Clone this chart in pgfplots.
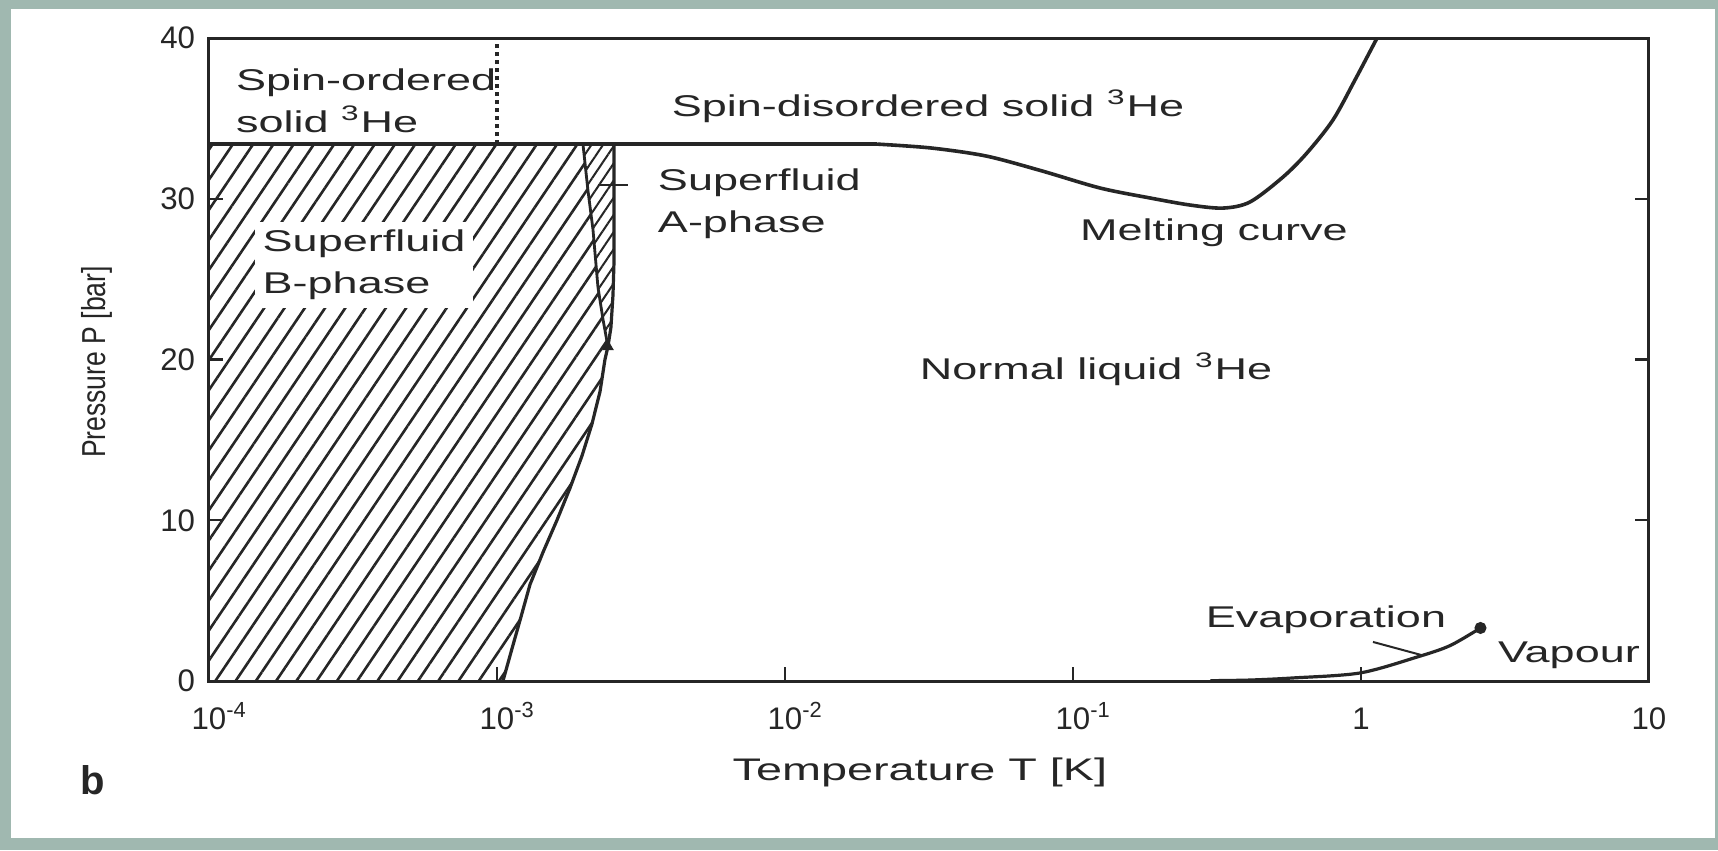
\documentclass[border=0pt]{standalone}
\usepackage{fontspec}
\setmainfont[FakeStretch=1.5]{Liberation Sans}
\newfontfamily\tickfont{Liberation Sans}
\newfontfamily\yfont[FakeStretch=0.8]{Liberation Sans}
\usepackage{pgfplots}
\pgfplotsset{compat=1.18}
\usetikzlibrary{patterns.meta}
\definecolor{bord}{RGB}{160,184,176}
\definecolor{ink}{RGB}{38,38,38}
\newcommand\lab{\fontsize{7.5}{10.5}\selectfont}
\begin{document}
\begin{tikzpicture}
\useasboundingbox (0,0) rectangle (429.5pt,212.5pt);
\fill[bord] (0,0) rectangle (429.5pt,212.5pt);
\fill[white] (2.75pt,3pt) rectangle (428.75pt,210.25pt);
\begin{axis}[
  at={(52.25pt,42.25pt)}, anchor=south west,
  width=360pt, height=160.75pt, scale only axis,
  xmode=log, xmin=1e-4, xmax=10, ymin=0, ymax=40,
  xtick={1e-4,1e-3,1e-2,1e-1,1,10},
  xticklabels={10\rlap{\textsuperscript{-4}},10\rlap{\textsuperscript{-3}},10\rlap{\textsuperscript{-2}},10\rlap{\textsuperscript{-1}},1,10},
  xminorticks=false, yminorticks=false,
  ytick={0,10,20,30,40},
  yticklabels={0,10,20,30,40},
  xtick pos=left, ytick pos=both,
  tick align=inside, major tick length=3.5pt,
  axis line style={line width=0.75pt, ink},
  tick style={ink, line width=0.6pt},
  axis on top,
  xticklabel style={font=\tickfont\fontsize{7.8}{9}\selectfont, text=ink, anchor=base, yshift=-12pt},
  yticklabel style={font=\tickfont\fontsize{7.8}{9}\selectfont, text=ink, anchor=east, inner sep=0pt, xshift=-3.3pt},
  xlabel={Temperature T [K]},
  xlabel style={at={(axis description cs:0.4937,-0.1415)}, anchor=center, font=\fontsize{7.8}{9}\selectfont, text=ink},
  ylabel={Pressure P [bar]},
  ylabel style={at={(axis description cs:-0.0778,0.4961)}, anchor=center, font=\yfont\fontsize{8.3}{10}\selectfont, text=ink},
]
% B-phase (hatched)
\addplot[draw=none, pattern={Lines[angle=56,distance=4.2pt,line width=0.65pt]}, pattern color=ink] coordinates {
(1e-4,0) (1.049e-3,0) (1.127e-3,2) (1.212e-3,4) (1.302e-3,6) (1.444e-3,8) (1.615e-3,10)
(1.793e-3,12) (1.973e-3,14) (2.138e-3,16) (2.279e-3,18) (2.371e-3,20) (2.428e-3,20.8)
(2.334e-3,22.5) (2.242e-3,24.5) (2.154e-3,28.1) (2.070e-3,30.5) (1.989e-3,33.4) (1e-4,33.4)
} -- cycle;
% A-phase (hatched)
\addplot[draw=none, pattern={Lines[angle=56,distance=2.4pt,line width=0.5pt]}, pattern color=ink] coordinates {
(2.428e-3,20.8) (2.487e-3,22) (2.528e-3,24) (2.548e-3,26) (2.548e-3,33.4) (1.989e-3,33.4)
(2.070e-3,30.5) (2.154e-3,28.1) (2.242e-3,24.5) (2.334e-3,22.5)
} -- cycle;
\node[fill=white, inner sep=2pt, align=left, anchor=west, text=ink, font=\lab] at (rel axis cs:0.0312,0.647) {Superfluid\\B-phase};
% melting curve
\addplot[ink, line width=0.9pt] coordinates {(1e-4,33.4) (0.0209,33.4)};
\addplot[ink, line width=0.9pt, smooth, tension=0.5] coordinates {
(0.0209,33.4) (0.0321,33.16) (0.0499,32.66) (0.0774,31.75) (0.1241,30.67) (0.185,30.05)
(0.2548,29.61) (0.3317,29.42) (0.4118,29.80) (0.536,31.35) (0.6494,32.85) (0.7993,34.90)
(0.9532,37.39) (1.137,40)
};
% superfluid transition line
\addplot[ink, line width=0.8pt] coordinates {
(1.049e-3,0) (1.127e-3,2) (1.212e-3,4) (1.302e-3,6) (1.444e-3,8) (1.615e-3,10)
(1.793e-3,12) (1.973e-3,14) (2.138e-3,16) (2.279e-3,18) (2.371e-3,20) (2.428e-3,20.8)
(2.487e-3,22) (2.528e-3,24) (2.548e-3,26) (2.548e-3,33.4)
};
% A-B transition line
\addplot[ink, line width=0.7pt] coordinates {
(2.428e-3,20.8) (2.334e-3,22.5) (2.242e-3,24.5) (2.154e-3,28.1) (2.070e-3,30.5) (1.989e-3,33.4)
};
\addplot[ink, only marks, mark=triangle*, mark size=1.3pt] coordinates {(2.428e-3,20.8)};
% spin ordering (dotted)
\addplot[ink, line width=1pt, densely dotted] coordinates {(1e-3,33.4) (1e-3,40)};
% A-phase leader
\addplot[ink, line width=0.5pt] coordinates {(2.242e-3,30.86) (2.851e-3,30.86)};
% evaporation curve
\addplot[ink, line width=0.8pt, smooth] coordinates {
(0.3,0.02) (0.4118,0.06) (0.5807,0.19) (0.992,0.50) (1.565,1.49) (2.037,2.2) (2.6,3.3)
};
\addplot[ink, only marks, mark=*, mark size=1.3pt] coordinates {(2.6,3.3)};
\addplot[ink, line width=0.5pt] coordinates {(1.1007,2.43) (1.633,1.6)};
% labels
\node[align=left, anchor=west, text=ink, font=\lab] at (rel axis cs:0.009,0.902) {Spin-ordered\\solid \textsuperscript{3}He};
\node[text=ink, font=\lab] at (rel axis cs:0.4993,0.8942) {Spin-disordered solid \textsuperscript{3}He};
\node[align=left, anchor=west, text=ink, font=\lab] at (rel axis cs:0.302,0.7418) {Superfluid\\A-phase};
\node[text=ink, font=\lab] at (rel axis cs:0.6979,0.6967) {Melting curve};
\node[text=ink, font=\lab] at (rel axis cs:0.616,0.4852) {Normal liquid \textsuperscript{3}He};
\node[text=ink, font=\lab] at (rel axis cs:0.7757,0.0949) {Evaporation};
\node[text=ink, font=\lab] at (rel axis cs:0.9444,0.0404) {Vapour};
\end{axis}
\node[font=\tickfont\bfseries\fontsize{10}{12}\selectfont, text=ink] at (23.25pt,17.5pt) {b};
\end{tikzpicture}
\end{document}
